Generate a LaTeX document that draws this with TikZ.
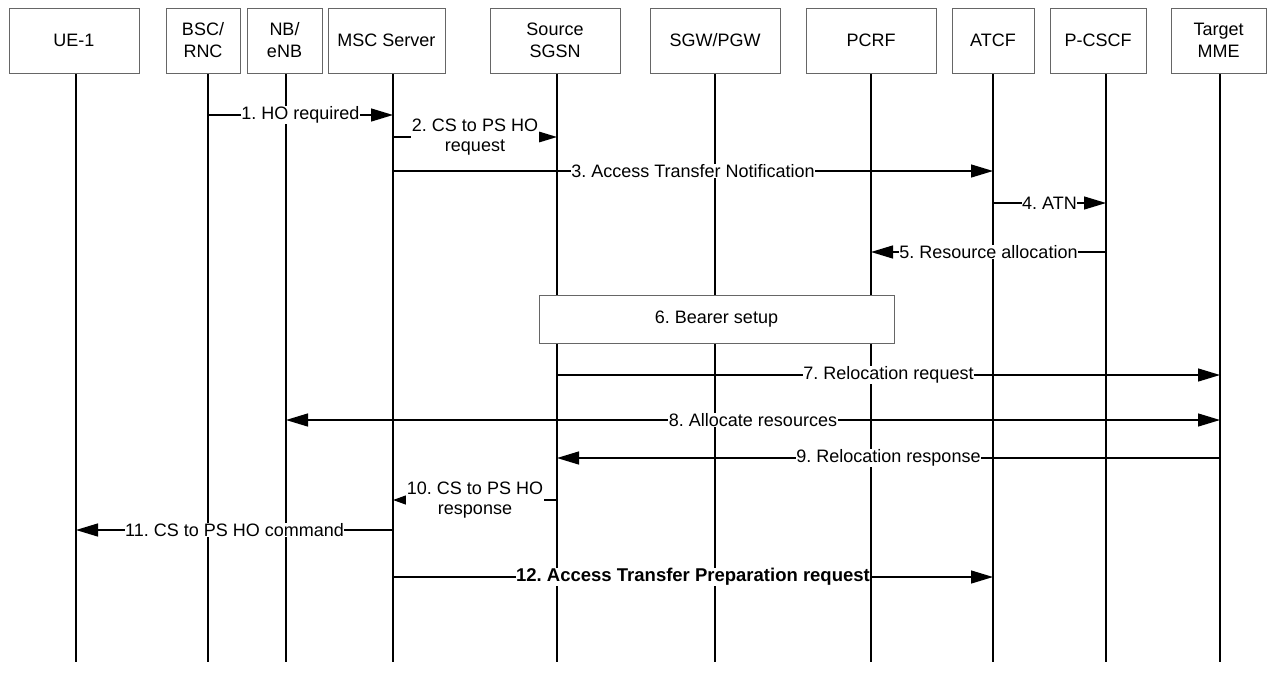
\documentclass[tikz,border=0pt]{standalone}
\usepackage{fontspec}
\setmainfont{Liberation Sans}
\usetikzlibrary{arrows.meta}
\usetikzlibrary{positioning}
\frenchspacing

\begin{document}
\begin{tikzpicture}[x=1pt,y=-1pt,
    font=\fontsize{18}{22}\selectfont,
    entity/.style={draw=black!60,fill=white,line width=0.8pt,rectangle,align=center,inner sep=0pt,minimum height=65pt},
    lifeline/.style={draw,line width=1.3pt},
    msg/.style={draw,line width=1.3pt,-{Triangle[length=22pt,width=13pt]}},
    msgtext/.style={fill=white,inner sep=0.5pt,align=center,font=\fontsize{18}{20}\selectfont}]

  \useasboundingbox (0,0) rectangle (1268,686);

  % lifelines
  \foreach \name/\x in {ue_1/76,bsc_rnc/208,nb_enb/286,msc_server/393,source_sgsn/557,
                        sgw_pgw/715,pcrf/871,atcf/993,p_cscf/1106,target_mme/1220}
    \path [lifeline] (\x,73) coordinate (\name_top) -- (\x,662) coordinate (\name_bot);

  % message levels
  \foreach \step/\y in {1/115,2/137,3/171,4/203,5/252,7/375,8/420,9/458,10/500,11/530,12/577}
    \coordinate (step_\step) at (0,\y);

  % entities
  \node [entity,minimum width=130pt] (ue_1)        at (74,40.5)    {UE-1};
  \node [entity,minimum width=74pt]  (bsc_rnc)     at (203,40.5)   {BSC/\\RNC};
  \node [entity,minimum width=75pt]  (nb_enb)      at (284.5,40.5) {NB/\\eNB};
  \node [entity,minimum width=117pt] (msc_server)  at (386.5,40.5) {MSC Server};
  \node [entity,minimum width=130pt] (source_sgsn) at (555,40.5)   {Source\\SGSN};
  \node [entity,minimum width=130pt] (sgw_pgw)     at (715,40.5)   {SGW/PGW};
  \node [entity,minimum width=130pt] (pcrf)        at (871,40.5)   {PCRF};
  \node [entity,minimum width=82pt]  (atcf)        at (993,40.5)   {ATCF};
  \node [entity,minimum width=96pt]  (p_cscf)      at (1098,40.5)  {P-CSCF};
  \node [entity,minimum width=95pt]  (target_mme)  at (1218.5,40.5) {Target\\MME};

  % messages
  \path [msg] (bsc_rnc_top |- step_1) -- node [msgtext] {1. HO required} (msc_server_top |- step_1);
  \path [msg] (msc_server_top |- step_2) -- node [msgtext] {2. CS to PS HO\\request} (source_sgsn_top |- step_2);
  \path [msg] (msc_server_top |- step_3) -- node [msgtext] {3. Access Transfer Notification} (atcf_top |- step_3);
  \path [msg] (atcf_top |- step_4) -- node [msgtext] {4. ATN} (p_cscf_top |- step_4);
  \path [msg] (p_cscf_top |- step_5) -- node [msgtext] {5. Resource allocation} (pcrf_top |- step_5);

  \node [entity,minimum width=355pt,minimum height=48pt] (bearer_setup) at (716.5,319) {6. Bearer setup};

  \path [msg] (source_sgsn_top |- step_7) -- node [msgtext] {7. Relocation request} (target_mme_top |- step_7);
  \path [msg,{Triangle[length=22pt,width=13pt]}-{Triangle[length=22pt,width=13pt]}]
    (nb_enb_top |- step_8) -- node [msgtext] {8. Allocate resources} (target_mme_top |- step_8);
  \path [msg] (target_mme_top |- step_9) -- node [msgtext] {9. Relocation response} (source_sgsn_top |- step_9);
  \path [msg,-{Triangle[length=13pt,width=9pt]}]
    (source_sgsn_top |- step_10) -- node [msgtext] {10. CS to PS HO\\response} (msc_server_top |- step_10);
  \path [msg] (msc_server_top |- step_11) -- node [msgtext] {11. CS to PS HO command} (ue_1_top |- step_11);
  \path [msg] (msc_server_top |- step_12) -- node [msgtext,font=\fontsize{18.5}{20}\selectfont\bfseries] {12. Access Transfer Preparation request} (atcf_top |- step_12);

\end{tikzpicture}
\end{document}
